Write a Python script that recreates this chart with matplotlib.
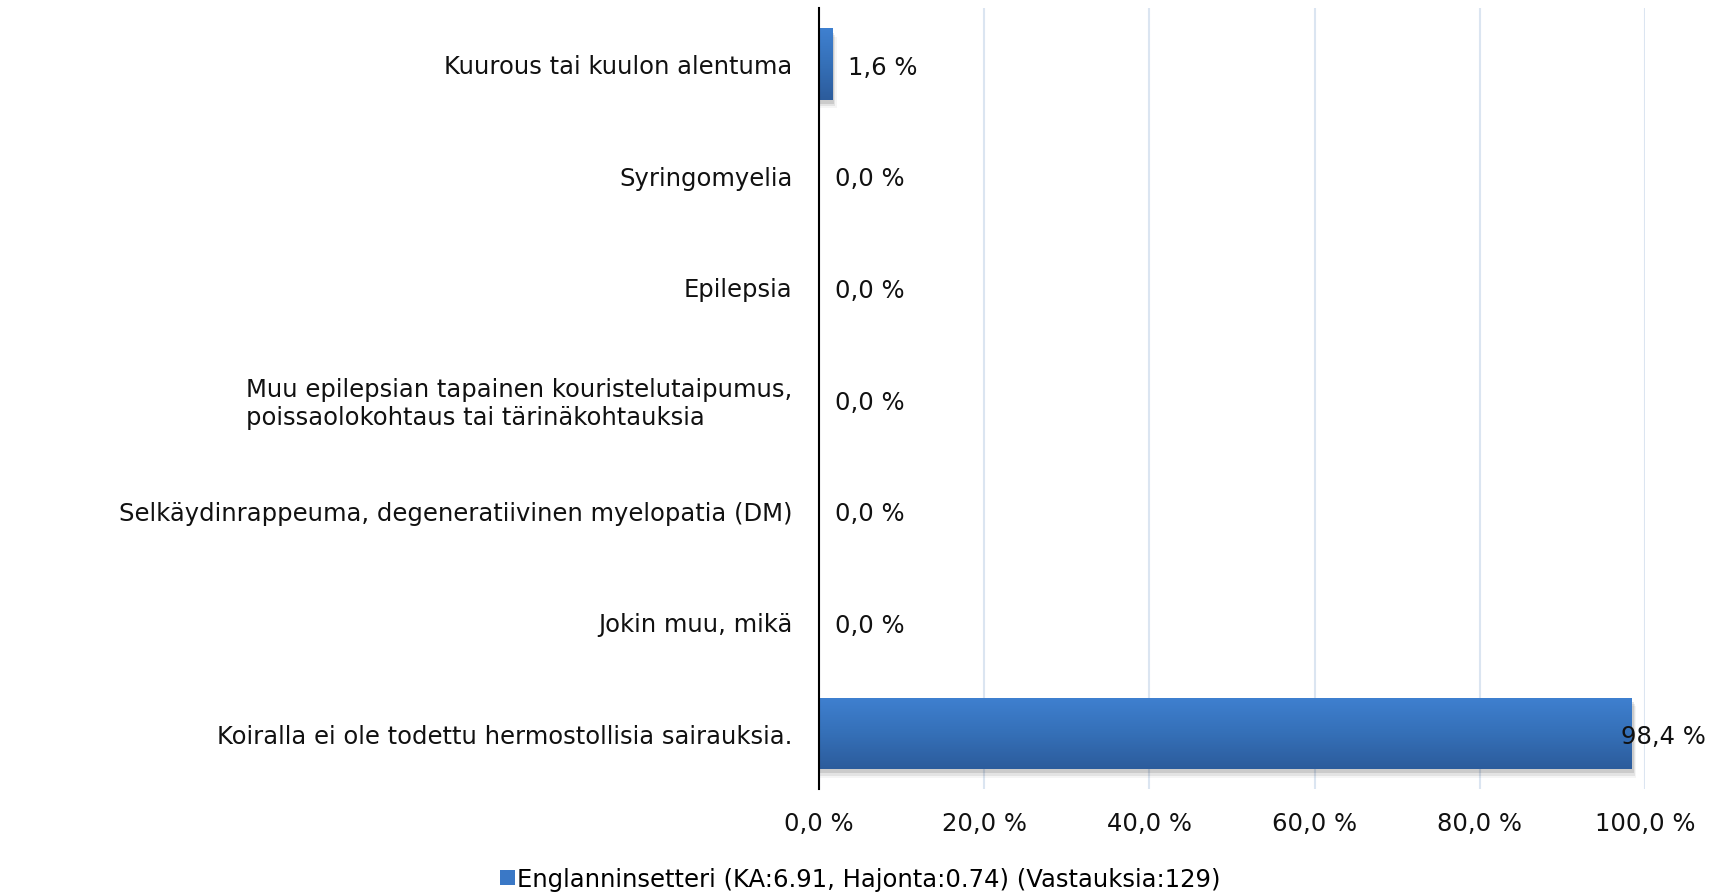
import numpy as np
import matplotlib
matplotlib.use('Agg')
import matplotlib.pyplot as plt
from matplotlib.patches import Patch
from matplotlib.colors import LinearSegmentedColormap

# data, top to bottom as in the chart
categories = [
    'Kuurous tai kuulon alentuma',
    'Syringomyelia',
    'Epilepsia',
    'Muu epilepsian tapainen kouristelutaipumus,\npoissaolokohtaus tai tärinäkohtauksia',
    'Selkäydinrappeuma, degeneratiivinen myelopatia (DM)',
    'Jokin muu, mikä',
    'Koiralla ei ole todettu hermostollisia sairauksia.',
]
values = [1.6, 0.0, 0.0, 0.0, 0.0, 0.0, 98.4]
x_ticks = [0, 20, 40, 60, 80, 100]
series_name = 'Englanninsetteri (KA:6.91, Hajonta:0.74) (Vastauksia:129)'

plt.rcParams['font.family'] = ['DejaVu Sans']
fs = 17.5

fig = plt.figure(figsize=(17.31, 8.95), dpi=100)
ax = fig.add_axes([0.4731, 0.1173, 0.4772, 0.8726])

y = np.arange(len(categories))
bar_h = 0.64
top_col = '#3f80d0'
bot_col = '#2c5c9c'
grad = LinearSegmentedColormap.from_list('g', [top_col, '#3570b8', bot_col])

# soft shadow under the bars
for yi, v in zip(y, values):
    if v > 0:
        for k, a in enumerate([0.10, 0.07, 0.04]):
            ax.barh(yi + 0.04 + k * 0.02, v + 0.25 + k * 0.15, height=bar_h,
                    color='black', alpha=a, zorder=1, linewidth=0)

bars = ax.barh(y, values, height=bar_h, color=top_col, zorder=2, linewidth=0)
for b in bars:
    if b.get_width() <= 0:
        continue
    x0, y0 = b.get_x(), b.get_y()
    w, h = b.get_width(), b.get_height()
    im = ax.imshow(np.linspace(0, 1, 100).reshape(-1, 1), cmap=grad, aspect='auto',
                   extent=[x0, x0 + w, y0 + h, y0], zorder=3, interpolation='bilinear')
    im.set_clip_path(b)

ax.set_ylim(len(categories) - 0.5, -0.5)
ax.set_xlim(0, 100)

for yi, v in zip(y, values):
    lbl = f'{v:.1f} %'.replace('.', ',')
    dx = -11 if v > 90 else 16
    ax.annotate(lbl, (v, yi), xytext=(dx, -3), textcoords='offset pixels',
                va='center', ha='left', fontsize=fs, color='#111111', zorder=5)

ax.set_yticks(y)
ax.set_yticklabels(categories, fontsize=fs, color='#111111', multialignment='left')
ax.set_xticks(x_ticks)
ax.set_xticklabels([f'{t:.1f} %'.replace('.', ',') for t in x_ticks], fontsize=fs, color='#111111')
ax.tick_params(axis='y', length=0, pad=19)
ax.tick_params(axis='x', length=0, pad=16)

ax.grid(axis='x', color='#dbe5f1', linewidth=1.5, zorder=0)
ax.set_axisbelow(True)
for s in ['top', 'right', 'bottom']:
    ax.spines[s].set_visible(False)
ax.spines['left'].set_color('black')
ax.spines['left'].set_linewidth(1.5)
ax.spines['left'].set_zorder(6)

handle = Patch(facecolor='#3a78c6', edgecolor='none')
fig.legend([handle], [series_name], loc='center', bbox_to_anchor=(0.497, 0.017),
           frameon=False, fontsize=fs, handlelength=0.6, handleheight=0.6,
           handletextpad=0.1, borderaxespad=0)

fig.savefig('out.png', dpi=100)
